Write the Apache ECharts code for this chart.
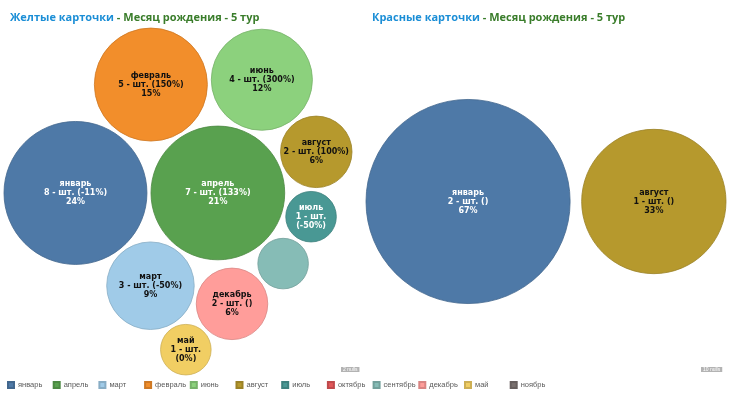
<!DOCTYPE html>
<html><head><meta charset="utf-8">
<script src="https://cdn.jsdelivr.net/npm/echarts@6/dist/echarts.min.js"></script>
<style>html,body{margin:0;padding:0;background:#fff}#c{width:730px;height:396px}</style>
</head><body><div id="c"></div>
<script>
// ---- data ----
const months = ['январь','апрель','март','февраль','июнь','август','июль','октябрь','сентябрь','декабрь','май','ноябрь'];
const monthColors = ['#4e79a7','#59a14f','#a0cbe8','#f28e2b','#8cd17d','#b6992d','#499894','#e15759','#86bcb6','#ff9d9a','#f1ce63','#79706e'];
const yellowCounts = [8, 7, 3, 5, 4, 2, 1, null, 1, 2, 1, null];
const yellowChange = ['-11%','133%','-50%','150%','300%','100%','-50%', null, null, '', '0%', null];
const redCounts = [2, null, null, null, null, 1, null, null, null, null, null, null];
const redChange = ['', null, null, null, null, '', null, null, null, null, null, null];
const titleLeft = ['Желтые карточки', ' - Месяц рождения - 5 тур'];
const titleRight = ['Красные карточки', ' - Месяц рождения - 5 тур'];
const unitText = 'шт.';

// ---- circle packing (front-chain spiral) ----
function place(b, a, c) {
  const dx = b.x - a.x, dy = b.y - a.y, d2 = dx*dx + dy*dy;
  if (d2) {
    let a2 = a.r + c.r; a2 *= a2;
    let b2 = b.r + c.r; b2 *= b2;
    if (a2 > b2) {
      const x = (d2 + b2 - a2) / (2*d2), y = Math.sqrt(Math.max(0, b2/d2 - x*x));
      c.x = b.x - x*dx - y*dy; c.y = b.y - x*dy + y*dx;
    } else {
      const x = (d2 + a2 - b2) / (2*d2), y = Math.sqrt(Math.max(0, a2/d2 - x*x));
      c.x = a.x + x*dx - y*dy; c.y = a.y + x*dy + y*dx;
    }
  } else { c.x = a.x + c.r; c.y = a.y; }
}
function intersects(a, b) {
  const dr = a.r + b.r - 1e-6, dx = b.x - a.x, dy = b.y - a.y;
  return dr > 0 && dr*dr > dx*dx + dy*dy;
}
function Node(c){ this._ = c; this.next = null; this.previous = null; }
function packSiblings(circles) {
  const n = circles.length; if (!n) return;
  let a = circles[0], b, c; a.x = 0; a.y = 0; if (n < 2) return;
  b = circles[1]; a.x = -b.r; b.x = a.r; b.y = 0; if (n < 3) return;
  place(b, a, c = circles[2]);
  a = new Node(a); b = new Node(b); c = new Node(c);
  a.next = c.previous = b; b.next = a.previous = c; c.next = b.previous = a;
  pack: for (let i = 3; i < n; ++i) {
    place(a._, b._, c = circles[i]); c = new Node(c);
    let j = b.next, k = a.previous, sj = b._.r, sk = a._.r;
    do {
      if (sj <= sk) {
        if (intersects(j._, c._)) { b = j; a.next = b; b.previous = a; --i; continue pack; }
        sj += j._.r; j = j.next;
      } else {
        if (intersects(k._, c._)) { a = k; a.next = b; b.previous = a; --i; continue pack; }
        sk += k._.r; k = k.previous;
      }
    } while (j !== k.next);
    c.previous = a; c.next = b; a.next = c; b.previous = c;
    a = c; b = c.next;
  }
}
const PAD = 0.08; // gap between bubbles, in unit-radius space
function layoutPane(counts, rect) {
  const items = [];
  counts.forEach((v, i) => { if (v) items.push({ i, v, r0: Math.sqrt(v), r: Math.sqrt(v) + PAD }); });
  packSiblings(items);
  let x0 = Infinity, x1 = -Infinity, y0 = Infinity, y1 = -Infinity;
  items.forEach(it => { x0 = Math.min(x0, it.x - it.r0); x1 = Math.max(x1, it.x + it.r0); y0 = Math.min(y0, it.y - it.r0); y1 = Math.max(y1, it.y + it.r0); });
  const s = Math.min(rect.w / (x1 - x0), rect.h / (y1 - y0));
  const cx = rect.x + rect.w/2, cy = rect.y + rect.h/2, mx = (x0 + x1)/2, my = (y0 + y1)/2;
  items.forEach(it => { it.px = cx + (it.x - mx)*s; it.py = cy + (it.y - my)*s; it.pr = it.r0*s; });
  return items;
}
function textColorFor(hex) {
  const r = parseInt(hex.slice(1,3),16), g = parseInt(hex.slice(3,5),16), b = parseInt(hex.slice(5,7),16);
  return (0.299*r + 0.587*g + 0.114*b) < 140 ? '#ffffff' : '#111111';
}
function darken(hex, f) {
  const r = parseInt(hex.slice(1,3),16), g = parseInt(hex.slice(3,5),16), b = parseInt(hex.slice(5,7),16);
  return 'rgb(' + [r,g,b].map(v => Math.round(v*f)).join(',') + ')';
}

const W = 730, H = 396;
const paneL = { x: 4, y: 25, w: 348, h: 353 };
const paneR = { x: 366, y: 25, w: 360, h: 353 };
const itemsL = layoutPane(yellowCounts, paneL);
const itemsR = layoutPane(redCounts, paneR);
const totalL = yellowCounts.reduce((s, v) => s + (v || 0), 0);
const totalR = redCounts.reduce((s, v) => s + (v || 0), 0);

function makeLabel(item, change, total) {
  const name = months[item.i];
  if (change === null || change === undefined) return '';
  const pct = Math.round(item.v / total * 100) + '%';
  if (item.pr < 30) return name + '\n' + item.v + ' - ' + unitText + '\n(' + change + ')';
  return name + '\n' + item.v + ' - ' + unitText + ' (' + change + ')\n' + pct;
}

const series = months.map((m, i) => {
  const data = [];
  itemsL.filter(it => it.i === i).forEach(it => data.push({ value: [it.px, it.py, it.pr], labelText: makeLabel(it, yellowChange[i], totalL) }));
  itemsR.filter(it => it.i === i).forEach(it => data.push({ value: [it.px, it.py, it.pr], labelText: makeLabel(it, redChange[i], totalR) }));
  return {
    type: 'scatter', name: m, data,
    symbolSize: v => v[2]*2,
    itemStyle: { color: monthColors[i], opacity: 1, borderColor: darken(monthColors[i], 0.85), borderWidth: 0.8 },
    emphasis: { disabled: true },
    animation: false,
    label: {
      show: true, position: 'inside',
      formatter: p => p.data.labelText,
      color: textColorFor(monthColors[i]),
      fontSize: 8, lineHeight: 9, fontFamily: 'DejaVu Sans', fontWeight: 'bold', align: 'center'
    }
  };
});

const nullsL = yellowCounts.filter(v => !v).length;
const nullsR = redCounts.filter(v => !v).length;

// one legend block per month, laid out in fixed-width columns
const LEG_X0 = 7, LEG_PITCH = 45.7;
const legends = months.map((m, i) => ({
  data: [m], left: LEG_X0 + i * LEG_PITCH, top: 381, padding: 0, icon: 'rect',
  itemWidth: 6, itemHeight: 6, selectedMode: false,
  textStyle: { fontSize: 7.5, color: '#5a5a5a', fontFamily: 'Liberation Sans', padding: [0, 0, 0, -1] }
}));

const chart = echarts.init(document.getElementById('c'), null, { renderer: 'canvas' });
const titleRich = {
  a: { color: '#1b8ed6', fontSize: 11, fontWeight: 'bold', fontFamily: 'Open Sans' },
  b: { color: '#3a7d2b', fontSize: 11, fontWeight: 'bold', fontFamily: 'Open Sans' }
};
chart.setOption({
  animation: false,
  backgroundColor: '#ffffff',
  title: [
    { left: 5, top: 7, text: '{a|' + titleLeft[0] + '}{b|' + titleLeft[1] + '}', textStyle: { rich: titleRich } },
    { left: 367, top: 7, text: '{a|' + titleRight[0] + '}{b|' + titleRight[1] + '}', textStyle: { rich: titleRich } }
  ],
  grid: { left: 0, top: 0, width: W, height: H },
  xAxis: { type: 'value', min: 0, max: W, show: false },
  yAxis: { type: 'value', min: 0, max: H, inverse: true, show: false },
  legend: legends,
  graphic: [
    { type: 'text', left: 341, top: 367, style: { text: nullsL + ' nulls', fontSize: 5, fill: '#fff', backgroundColor: '#b3b3b3', padding: [0, 2] } },
    { type: 'text', left: 701, top: 367, style: { text: nullsR + ' nulls', fontSize: 5, fill: '#fff', backgroundColor: '#b3b3b3', padding: [0, 2] } }
  ],
  series
});
</script>
</body></html>
